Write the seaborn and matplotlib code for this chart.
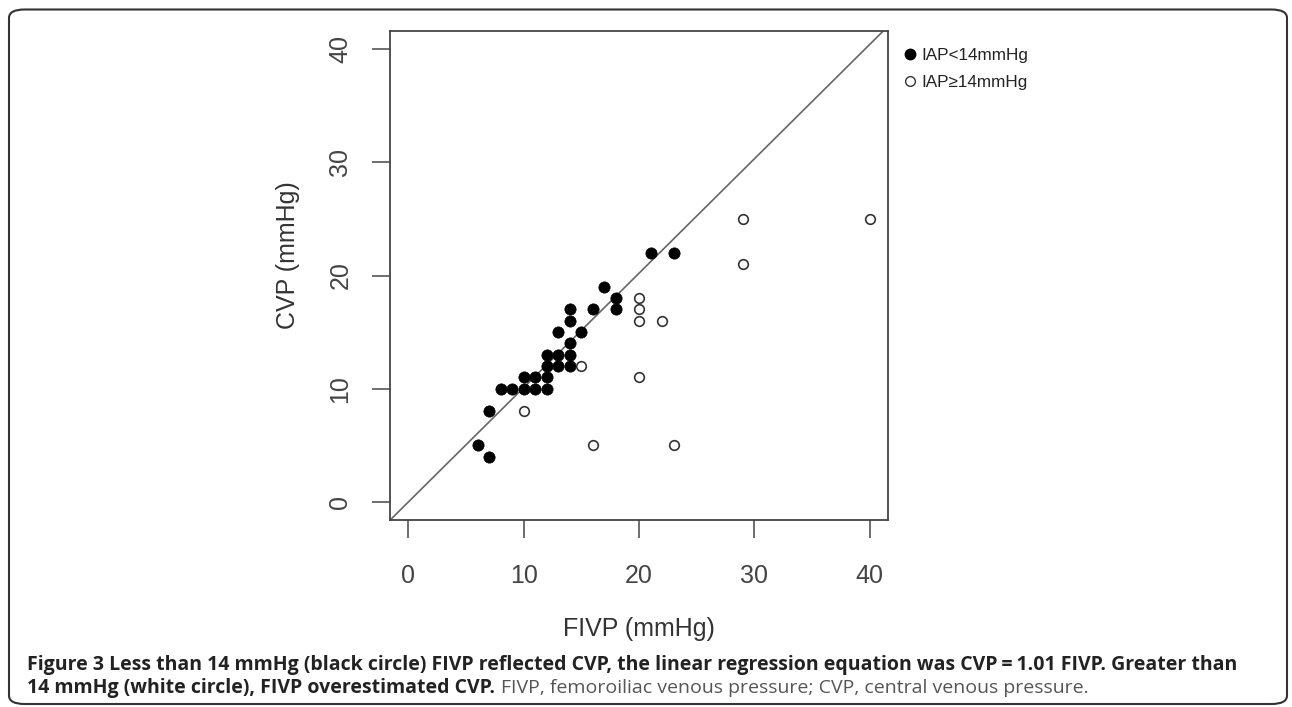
import numpy as np
import pandas as pd
import seaborn as sns
import matplotlib.pyplot as plt
from matplotlib.lines import Line2D
from matplotlib.patches import FancyBboxPatch

# black circles, IAP < 14 mmHg
fivp_low = [6, 7, 7, 8, 9, 10, 10, 11, 11, 12, 12, 12, 12, 13, 13, 14, 14, 14,
            14, 14, 13, 15, 16, 17, 18, 18, 21, 23]
cvp_low = [5, 8, 4, 10, 10, 10, 11, 10, 11, 10, 11, 12, 13, 12, 13, 12, 13, 14,
           16, 17, 15, 15, 17, 19, 18, 17, 22, 22]

# white circles, IAP >= 14 mmHg
fivp_high = [10, 15, 16, 20, 20, 20, 20, 22, 23, 29, 29, 40]
cvp_high = [8, 12, 5, 11, 16, 17, 18, 16, 5, 21, 25, 25]

slope = 1.01
ticks = [0, 10, 20, 30, 40]

low = pd.DataFrame({'FIVP': fivp_low, 'CVP': cvp_low})
high = pd.DataFrame({'FIVP': fivp_high, 'CVP': cvp_high})

sns.set_style("white")
plt.rcParams['font.family'] = ['Liberation Sans', 'DejaVu Sans']

W, H = 1292, 707
fig = plt.figure(figsize=(W / 100, H / 100), dpi=100)
ax = fig.add_axes([390 / W, 1 - 520 / H, 498 / W, 489 / H])

ax.axline((0, 0), slope=slope, color='#666666', lw=1.2, zorder=1)
sns.scatterplot(data=low, x='FIVP', y='CVP', ax=ax, color='black', s=66,
                edgecolor='black', linewidth=0.5, zorder=3)
sns.scatterplot(data=high, x='FIVP', y='CVP', ax=ax, facecolor='white', s=48,
                edgecolor='#333333', linewidth=1.2, zorder=3)

ax.set_xlim(-1.6, 41.6)
ax.set_ylim(-1.6, 41.6)
ax.set_xticks(ticks)
ax.set_yticks(ticks)
ax.set_xticklabels([str(t) for t in ticks])
ax.set_yticklabels([str(t) for t in ticks], rotation=90, va='center')
ax.tick_params(axis='both', direction='out', length=13, width=1.2,
               color='#555555', labelsize=18, labelcolor='#444444',
               bottom=True, left=True)
ax.tick_params(axis='x', pad=19)
ax.tick_params(axis='y', pad=14)
for sp in ax.spines.values():
    sp.set_color('#444444')
    sp.set_linewidth(1.3)

ax.set_xlabel('FIVP (mmHg)', fontsize=18, color='#333333')
ax.xaxis.label.set_va('center')
ax.xaxis.set_label_coords(0.5, (520 - 629) / 489)
ax.set_ylabel('CVP (mmHg)', fontsize=18, color='#333333')
ax.yaxis.label.set_va('center')
ax.yaxis.set_label_coords((288 - 390) / 498, (520 - 255) / 489)

handles = [
    Line2D([], [], marker='o', ls='', markersize=7.5, markerfacecolor='black',
           markeredgecolor='black'),
    Line2D([], [], marker='o', ls='', markersize=7, markerfacecolor='white',
           markeredgecolor='#333333', markeredgewidth=1.0),
]
fig.legend(handles, ['IAP<14mmHg', 'IAP≥14mmHg'], loc='upper left',
           bbox_to_anchor=(893 / W, 1 - 39 / H), frameon=False,
           fontsize=12.3, handletextpad=0.15, handlelength=1.0,
           labelspacing=0.72, borderpad=0, labelcolor='#222222')

# outer figure frame
frame = FancyBboxPatch((9 / W, 1 - 704 / H), 1278 / W, 694.5 / H,
                       boxstyle='round,pad=0,rounding_size=0.012',
                       transform=fig.transFigure, fill=False,
                       edgecolor='#333333', linewidth=1.5)
fig.patches.append(frame)

# caption
cap_font = ['Open Sans', 'DejaVu Sans']
fig.text(27 / W, 1 - 665 / H,
         'Figure 3 Less than 14 mmHg (black circle) FIVP reflected CVP, '
         'the linear regression equation was CVP\u2009=\u20091.01 FIVP. '
         'Greater than',
         family=cap_font, fontsize=14, fontweight='bold', color='#222222',
         va='center')
t2 = fig.text(27 / W, 1 - 688 / H,
              '14 mmHg (white circle), FIVP overestimated CVP.',
              family=cap_font, fontsize=14, fontweight='bold', color='#222222',
              va='center')
ax.annotate('FIVP, femoroiliac venous pressure; CVP, central venous pressure.',
            xy=(1, 0.5), xycoords=t2, xytext=(4, 0), textcoords='offset points',
            va='center', ha='left', family=cap_font, fontsize=14,
            color='#555555', annotation_clip=False)

fig.savefig('out.png', dpi=100)
